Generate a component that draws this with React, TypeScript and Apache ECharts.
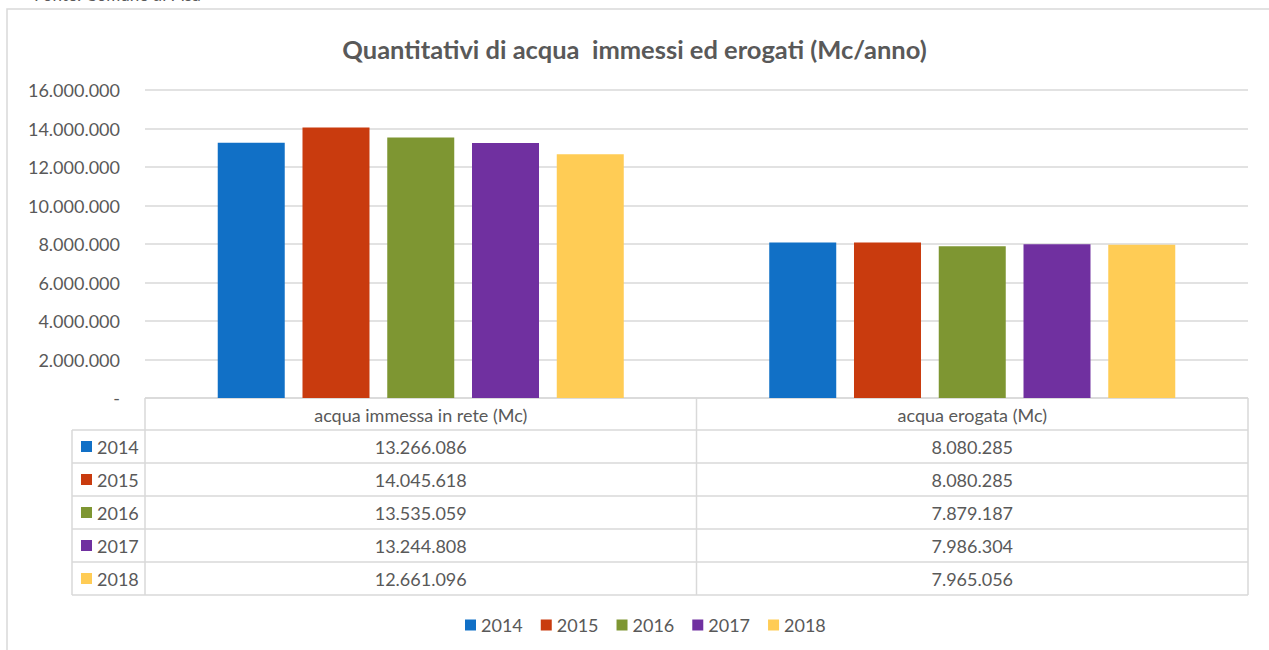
import React, { useEffect, useRef } from "react";
import * as echarts from "echarts";

const title = "Quantitativi di acqua  immessi ed erogati (Mc/anno)";
const sourceNote = "Fonte: Comune di Pisa";
const categories = ["acqua immessa in rete (Mc)", "acqua erogata (Mc)"];
const years = ["2014", "2015", "2016", "2017", "2018"];
const values2014 = [13266086, 8080285];
const values2015 = [14045618, 8080285];
const values2016 = [13535059, 7879187];
const values2017 = [13244808, 7986304];
const values2018 = [12661096, 7965056];
const seriesValues = [values2014, values2015, values2016, values2017, values2018];
const colors = ["#1170C6", "#C93B0E", "#7E9632", "#7030A0", "#FFCC55"];
const yMin = 0;
const yMax = 16000000;
const yStep = 2000000;

const FONT = "Lato, 'Open Sans', sans-serif";
const TEXT = "#595959";
const LINE = "#d9d9d9";

const GRID_LEFT = 145;
const GRID_RIGHT = 1248;
const GRID_TOP = 90;
const AXIS_Y = 398;
const HEADER_H = 32;
const ROW_H = 33;
const TABLE_LEFT = 72;

function fmt(n: number): string {
  if (n === 0) return "-";
  return String(Math.round(n)).replace(/\B(?=(\d{3})+(?!\d))/g, ".");
}

export default function App() {
  const ref = useRef<HTMLDivElement>(null);
  useEffect(() => {
    if (!ref.current) return;
    const chart = echarts.init(ref.current, null, { renderer: "svg" });
    const rowsTop = AXIS_Y + HEADER_H;
    const tableBottom = rowsTop + ROW_H * years.length;
    const colW = (GRID_RIGHT - GRID_LEFT) / categories.length;
    const graphics: any[] = [];
    graphics.push({
      type: "rect",
      silent: true,
      shape: { x: 7, y: 9, width: 1400, height: 800 },
      style: { fill: "none", stroke: LINE, lineWidth: 1.5 },
    });
    graphics.push({
      type: "text",
      silent: true,
      x: 34,
      y: 3,
      style: { text: sourceNote, font: `17px ${FONT}`, fill: TEXT, textVerticalAlign: "bottom" },
    });
    const vx = [GRID_LEFT];
    for (let c = 1; c <= categories.length; c++) vx.push(GRID_LEFT + colW * c);
    vx.forEach((x) =>
      graphics.push({
        type: "line",
        silent: true,
        shape: { x1: x, y1: AXIS_Y, x2: x, y2: tableBottom },
        style: { stroke: LINE, lineWidth: 1.5 },
      })
    );
    graphics.push({
      type: "line",
      silent: true,
      shape: { x1: TABLE_LEFT, y1: rowsTop, x2: TABLE_LEFT, y2: tableBottom },
      style: { stroke: LINE, lineWidth: 1.5 },
    });
    graphics.push({
      type: "line",
      silent: true,
      shape: { x1: GRID_LEFT, y1: AXIS_Y, x2: GRID_RIGHT, y2: AXIS_Y },
      style: { stroke: LINE, lineWidth: 1.5 },
    });
    for (let r = 0; r <= years.length; r++) {
      const y = rowsTop + ROW_H * r;
      graphics.push({
        type: "line",
        silent: true,
        shape: { x1: TABLE_LEFT, y1: y, x2: GRID_RIGHT, y2: y },
        style: { stroke: LINE, lineWidth: 1.5 },
      });
    }
    years.forEach((yr, i) => {
      const cy = rowsTop + ROW_H * i + ROW_H / 2;
      graphics.push({
        type: "rect",
        silent: true,
        shape: { x: 81, y: cy - 5.5, width: 11, height: 11 },
        style: { fill: colors[i] },
      });
      graphics.push({
        type: "text",
        silent: true,
        x: 97,
        y: cy,
        style: { text: yr, font: `18px ${FONT}`, fill: TEXT, textVerticalAlign: "middle", textAlign: "left" },
      });
      seriesValues[i].forEach((v, c) => {
        graphics.push({
          type: "text",
          silent: true,
          x: GRID_LEFT + colW * c + colW / 2,
          y: cy,
          style: { text: fmt(v), font: `18px ${FONT}`, fill: TEXT, textVerticalAlign: "middle", textAlign: "center" },
        });
      });
    });

    chart.setOption({
      animation: false,
      backgroundColor: "#ffffff",
      title: {
        text: title,
        left: "center",
        top: 31,
        textStyle: { fontFamily: FONT, fontSize: 25.5, fontWeight: "bold", color: TEXT },
      },
      legend: {
        data: years,
        left: 460,
        top: 611,
        itemWidth: 11,
        itemHeight: 11,
        itemGap: 18,
        icon: "rect",
        textStyle: { fontFamily: FONT, fontSize: 18, color: TEXT },
      },
      grid: {
        left: GRID_LEFT,
        right: 1269 - GRID_RIGHT,
        top: GRID_TOP,
        bottom: 650 - AXIS_Y,
        containLabel: false,
      },
      xAxis: {
        type: "category",
        data: categories,
        axisLine: { show: false },
        axisTick: { show: false },
        axisLabel: {
          margin: 8,
          fontFamily: FONT,
          fontSize: 18,
          color: TEXT,
        },
      },
      yAxis: {
        type: "value",
        min: yMin,
        max: yMax,
        interval: yStep,
        axisLine: { show: false },
        axisTick: { show: false },
        splitLine: { lineStyle: { color: LINE, width: 1.5 } },
        axisLabel: {
          margin: 25,
          fontFamily: FONT,
          fontSize: 18,
          color: TEXT,
          formatter: (v: number) => fmt(v),
        },
      },
      series: years.map((yr, i) => ({
        name: yr,
        type: "bar",
        data: seriesValues[i],
        barWidth: 67,
        barGap: "26.5%",
        itemStyle: { color: colors[i] },
      })),
      graphic: graphics,
    });
    return () => chart.dispose();
  }, []);
  return (
    <div
      ref={ref}
      style={{ position: "absolute", left: 0, top: 0, width: 1269, height: 650 }}
    />
  );
}
